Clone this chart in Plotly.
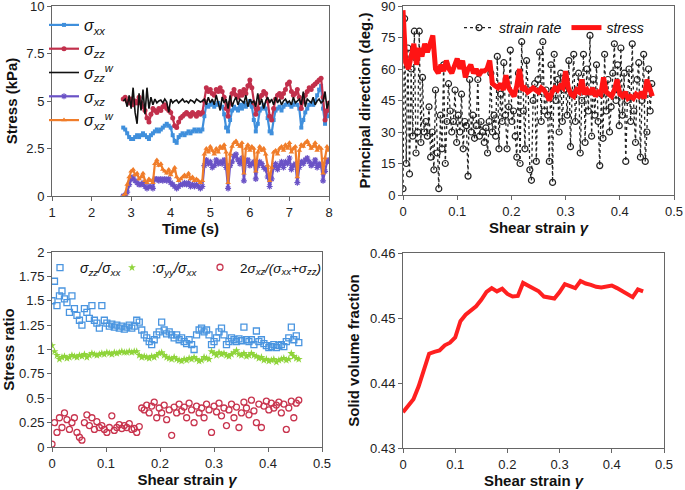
import numpy as np
import plotly.graph_objects as go

FONT = "Liberation Sans, Arial, sans-serif"

# ---------------- Panel (a): stresses vs time ----------------
time_s = np.round(2.8 + 0.05 * np.arange(105), 2)

sigma_xx = [3.6, 3.5, 3.3, 3.1, 3.0, 3.0, 3.1, 3.2, 3.1, 3.2,
            3.3, 3.2, 3.1, 3.0, 3.2, 3.3, 3.4, 3.5, 3.4, 3.5,
            3.6, 3.7, 3.8, 3.7, 3.6, 3.2, 2.9, 2.8, 3.1, 3.2,
            3.3, 3.2, 3.3, 3.4, 3.3, 3.4, 3.5, 3.4, 3.5, 3.4,
            3.5, 4.2, 4.8, 4.7, 4.8, 4.9, 4.7, 4.8, 4.9, 4.8,
            4.7, 4.3, 3.6, 3.4, 4.0, 4.5, 4.7, 4.6, 4.5, 4.8,
            4.6, 4.9, 4.7, 4.8, 5.0, 4.7, 4.0, 3.4, 3.8, 4.5,
            4.6, 4.8, 4.6, 4.1, 3.4, 3.3, 4.0, 4.5, 4.6, 4.7,
            4.5, 4.7, 4.8, 4.9, 4.8, 4.7, 4.8, 4.9, 4.8, 4.6,
            3.6, 4.0, 4.4, 4.6, 4.8, 4.9, 4.8, 5.0, 5.3, 5.6,
            5.8, 4.6, 3.8, 4.2, 4.7]
sigma_zz = [5.1, 5.2, 5.0, 4.9, 5.1, 4.8, 5.0, 4.9, 5.2, 4.9,
            4.7, 4.5, 4.1, 3.9, 4.3, 4.6, 4.5, 4.4, 4.6, 4.5,
            4.7, 4.8, 4.6, 4.5, 4.4, 4.1, 3.7, 3.6, 3.9, 4.1,
            4.2, 4.3, 4.4, 4.3, 4.2, 4.4, 4.3, 4.2, 4.4, 4.3,
            4.4, 5.0, 5.7, 5.5, 5.6, 5.4, 5.3, 5.6, 5.5, 5.7,
            5.5, 5.2, 4.6, 4.2, 4.9, 5.4, 5.6, 5.3, 5.2, 5.5,
            5.3, 5.6, 5.4, 5.8, 6.1, 5.7, 4.9, 4.3, 4.6, 5.2,
            5.3, 5.5, 5.4, 5.0, 4.2, 4.0, 4.6, 5.1, 5.3, 5.4,
            5.2, 5.4, 5.6, 5.9, 6.0, 5.5, 5.3, 5.4, 5.6, 5.2,
            4.6, 5.0, 5.3, 5.5, 5.7, 5.6, 5.8, 5.9, 6.0, 6.1,
            6.2, 5.2, 4.0, 4.5, 4.9]
sigma_zz_w = [5.0, 5.1, 4.7, 5.3, 4.6, 5.7, 4.4, 3.8, 5.4, 4.5,
              5.6, 4.3, 5.7, 4.6, 5.2, 4.8, 5.1, 4.9, 5.0, 5.05,
              4.9, 5.1, 4.95, 4.4, 5.1, 4.9, 5.0, 5.05, 4.9, 5.0,
              5.1, 4.95, 5.0, 4.9, 5.05, 5.0, 4.9, 5.1, 5.0, 4.95,
              5.0, 5.1, 4.8, 5.2, 4.9, 5.1, 4.8, 5.3, 4.9, 4.5,
              5.2, 4.9, 5.1, 4.6, 5.3, 4.7, 5.0, 5.2, 4.8, 5.1,
              5.0, 4.9, 5.3, 4.7, 5.1, 4.9, 5.0, 4.7, 5.4, 4.8,
              5.1, 4.6, 5.0, 5.2, 4.9, 5.1, 4.8, 5.2, 4.9, 5.1,
              4.8, 5.0, 5.1, 4.9, 5.0, 4.8, 5.2, 4.9, 5.0, 5.1,
              4.8, 5.5, 4.7, 5.1, 5.0, 4.9, 5.2, 4.8, 5.0, 5.1,
              4.9, 5.0, 5.5, 4.6, 5.0]
sigma_xz = [0.0, 0.05, 0.2, 0.6, 0.9, 1.0, 0.8, 0.7, 0.6, 0.6,
            0.7, 0.5, 0.4, 0.5, 0.5, 0.4, 0.9, 0.9, 0.8, 0.9,
            0.8, 0.9, 0.8, 0.9, 0.7, 0.6, 0.5, 0.4, 0.5, 0.6,
            0.6, 0.7, 0.6, 0.7, 0.5, 0.6, 0.5, 0.6, 0.5, 0.4,
            0.5, 1.6, 1.9, 1.7, 1.8, 1.5, 1.6, 1.9, 1.7, 1.8,
            1.7, 1.9, 1.5, 0.4, 1.6, 1.8, 2.1, 2.2, 1.9, 1.7,
            2.0, 0.8, 1.8, 1.9, 1.6, 1.7, 1.8, 0.9, 1.6, 1.8,
            1.7, 1.5, 1.4, 1.0, 0.5, 0.9, 1.5, 1.7, 1.4, 1.6,
            1.8, 1.5, 1.8, 1.7, 2.0, 1.4, 1.6, 1.7, 0.7, 1.5,
            1.8, 1.7, 1.9, 2.0, 1.8, 1.6, 1.7, 1.9, 1.5, 1.7,
            1.6, 0.8, 1.3, 1.8, 1.9]
sigma_xz_w = [0.0, 0.1, 0.6, 1.0, 1.3, 1.4, 1.1, 1.2, 0.9, 1.0,
              1.2, 0.8, 0.7, 0.9, 0.8, 0.7, 1.7, 1.9, 1.6, 1.7,
              1.4, 1.3, 1.2, 1.4, 1.1, 1.3, 1.5, 1.0, 0.8, 0.9,
              1.0, 1.1, 1.0, 1.2, 0.9, 1.0, 0.8, 0.9, 0.8, 0.7,
              0.8, 2.2, 2.5, 2.3, 2.6, 2.4, 2.2, 2.5, 2.3, 2.6,
              2.5, 2.7, 2.3, 0.7, 2.2, 2.6, 2.8, 2.9, 2.7, 2.6,
              2.8, 1.2, 2.5, 2.7, 2.4, 2.6, 2.5, 1.3, 2.3, 2.6,
              2.4, 2.5, 2.2, 1.6, 0.8, 1.5, 2.3, 2.4, 2.2, 2.5,
              2.6, 2.4, 2.7, 2.5, 2.8, 2.3, 2.5, 2.6, 1.0, 2.4,
              2.7, 2.6, 2.8, 2.9, 2.7, 2.5, 2.6, 2.8, 2.4, 2.6,
              2.5, 1.2, 2.0, 2.6, 2.4]

# ---------------- Panel (b): principal directions ----------------
gamma_rate = np.round(0.003 * np.arange(154), 4)
dir_strain_rate = [3, 84, 15, 70, 10, 60, 28, 78, 20, 30,
                   78, 25, 56, 30, 35, 28, 42, 18, 30, 12,
                   50, 20, 3, 38, 22, 62, 15, 35, 53, 40,
                   30, 35, 50, 25, 38, 30, 48, 22, 35, 33,
                   9, 55, 30, 38, 27, 33, 55, 28, 35, 30,
                   25, 32, 20, 35, 58, 30, 38, 28, 66, 22,
                   48, 35, 63, 38, 22, 42, 69, 35, 40, 28,
                   18, 58, 15, 73, 40, 22, 64, 50, 12, 7,
                   45, 53, 16, 55, 68, 35, 73, 40, 50, 38,
                   16, 62, 6, 67, 45, 55, 30, 58, 35, 50,
                   52, 38, 64, 23, 48, 67, 35, 50, 58, 20,
                   45, 67, 25, 60, 40, 76, 28, 55, 38, 62,
                   35, 14, 48, 27, 67, 40, 55, 30, 42, 58,
                   72, 45, 62, 33, 70, 38, 58, 16, 45, 60,
                   35, 72, 40, 25, 55, 63, 18, 45, 67, 16,
                   30, 60, 40, 53]
gamma_stress = np.round(0.005 * np.arange(93), 4)
dir_stress = [88, 63, 60, 66, 72, 62, 70, 66, 72, 68,
              73, 76, 60, 58, 62, 59, 64, 60, 58, 61,
              65, 60, 64, 56, 60, 62, 58, 60, 57, 59,
              59, 60, 64, 53, 52, 51, 53, 50, 57, 51,
              49, 47, 52, 60, 50, 51, 49, 50, 51, 50,
              49, 51, 50, 48, 45, 49, 51, 50, 52, 51,
              59, 51, 48, 47, 50, 49, 55, 48, 50, 48,
              51, 47, 49, 48, 56, 49, 48, 47, 50, 55,
              48, 47, 49, 46, 47, 46, 48, 47, 49, 46,
              55, 51, 47]

# ---------------- Panel (c): stress ratios ----------------
gamma_ratio = np.round(np.linspace(0, 0.457, 100), 4)
ratio_zz_xx = [1.5, 1.7, 1.45, 1.55, 1.6, 1.52, 1.48, 1.38, 1.55, 1.42,
               1.35, 1.3, 1.25, 1.42, 1.38, 1.32, 1.45, 1.3, 1.27, 1.22,
               1.45, 1.3, 1.27, 1.24, 1.26, 1.23, 1.25, 1.22, 1.24, 1.21,
               1.23, 1.25, 1.22, 1.24, 1.3, 1.28, 1.2, 1.15, 1.12, 1.08,
               1.05, 1.1, 1.15, 1.18, 1.28, 1.2, 1.16, 1.18, 1.15, 1.12,
               1.15, 1.1, 1.12, 1.08, 1.06, 1.1, 1.05, 1.0, 1.15, 1.2,
               1.22, 1.18, 1.2, 1.15, 1.05, 1.08, 1.12, 1.18, 1.22, 1.15,
               1.05, 1.08, 1.12, 1.1, 1.08, 1.11, 1.09, 1.23, 1.1, 1.08,
               1.1, 1.05, 1.19, 1.08, 1.1, 1.06, 1.04, 1.02, 1.03, 1.05,
               1.02, 1.04, 1.05, 1.03, 1.08, 1.12, 1.23, 1.1, 1.14, 1.07]
ratio_yy_xx = [1.04, 0.98, 0.94, 0.9, 0.92, 0.93, 0.91, 0.92, 0.94, 0.93,
               0.92, 0.94, 0.93, 0.95, 0.92, 0.94, 0.96, 0.95, 0.94, 0.95,
               0.96, 0.95, 0.97, 0.96, 0.95, 0.97, 0.96, 0.97, 0.98, 0.97,
               0.97, 0.98, 0.97, 0.98, 0.98, 0.94, 0.92, 0.93, 0.92, 0.91,
               0.93, 0.92, 0.94, 0.96, 0.97, 0.94, 0.92, 0.91, 0.9, 0.92,
               0.9, 0.89, 0.88, 0.9, 0.89, 0.91, 0.9, 0.92, 0.9, 0.88,
               0.89, 0.92, 0.91, 0.9, 0.98, 0.96, 0.94, 0.97, 0.95, 0.96,
               0.94, 0.93, 0.95, 0.97, 0.99, 0.95, 0.94, 0.96, 0.93, 0.94,
               0.96, 0.94, 0.93, 0.91, 0.92, 0.89, 0.9, 0.88, 0.89, 0.9,
               0.87, 0.89, 0.9, 0.91, 0.89, 0.9, 0.96, 0.93, 0.91, 0.9]
ratio_shear = [0.03, 0.25, 0.15, 0.3, 0.2, 0.35, 0.28, 0.18, 0.25, 0.3,
               0.15, 0.1, 0.07, 0.25, 0.33, 0.22, 0.3, 0.18, 0.26, 0.2,
               0.22, 0.18, 0.15, 0.2, 0.32, 0.17, 0.2, 0.23, 0.19, 0.22,
               0.2, 0.24, 0.18, 0.19, 0.15, 0.21, 0.4, 0.38, 0.43, 0.35,
               0.42, 0.46, 0.3, 0.4, 0.35, 0.43, 0.28, 0.38, 0.12, 0.41,
               0.35, 0.44, 0.37, 0.41, 0.3, 0.45, 0.38, 0.25, 0.42, 0.35,
               0.4, 0.3, 0.44, 0.38, 0.15, 0.42, 0.36, 0.45, 0.32, 0.4,
               0.22, 0.38, 0.44, 0.3, 0.41, 0.2, 0.35, 0.46, 0.4, 0.33,
               0.48, 0.37, 0.25, 0.44, 0.2, 0.42, 0.47, 0.38, 0.45, 0.4,
               0.43, 0.46, 0.35, 0.44, 0.18, 0.4, 0.47, 0.3, 0.45, 0.48]

# ---------------- Panel (d): solid volume fraction ----------------
gamma_phi = np.round(0.01 * np.arange(47), 3)
solid_fraction = [0.4355, 0.4365, 0.4375, 0.4395, 0.4420, 0.4445, 0.4448, 0.4450, 0.4458, 0.4462,
                  0.4470, 0.4495, 0.4505, 0.4512, 0.4518, 0.4528, 0.4540, 0.4546, 0.4541, 0.4545,
                  0.4537, 0.4533, 0.4534, 0.4554, 0.4550, 0.4546, 0.4541, 0.4533, 0.4532, 0.4530,
                  0.4540, 0.4552, 0.4549, 0.4546, 0.4557, 0.4553, 0.4551, 0.4548, 0.4547, 0.4548,
                  0.4550, 0.4546, 0.4541, 0.4536, 0.4532, 0.4544, 0.4541]

# ---------------- Figure ----------------
fig = go.Figure()

C_XX = "#3f8fdc"
C_ZZ = "#c2304c"
C_XZ = "#6a52c6"
C_XZW = "#f07d2a"

def S(name):
    return f"<i>{name}</i>"

# Panel a
fig.add_trace(go.Scatter(x=time_s, y=sigma_xx, name=S("σ<sub>xx</sub>"), mode="lines+markers",
                         line=dict(color=C_XX, width=2.2), marker=dict(symbol="square", size=4, color=C_XX),
                         xaxis="x", yaxis="y", legend="legend"))
fig.add_trace(go.Scatter(x=time_s, y=sigma_zz, name=S("σ<sub>zz</sub>"), mode="lines+markers",
                         line=dict(color=C_ZZ, width=2.2), marker=dict(symbol="circle", size=5, color=C_ZZ),
                         xaxis="x", yaxis="y", legend="legend"))
fig.add_trace(go.Scatter(x=time_s, y=sigma_zz_w, name=S("σ<sub>zz</sub><sup>w</sup>"), mode="lines",
                         line=dict(color="#111111", width=1.6),
                         xaxis="x", yaxis="y", legend="legend"))
fig.add_trace(go.Scatter(x=time_s, y=sigma_xz, name=S("σ<sub>xz</sub>"), mode="lines+markers",
                         line=dict(color=C_XZ, width=2.2), marker=dict(symbol="asterisk-open", size=5, color=C_XZ, line=dict(width=1.2, color=C_XZ)),
                         xaxis="x", yaxis="y", legend="legend"))
fig.add_trace(go.Scatter(x=time_s, y=sigma_xz_w, name=S("σ<sub>xz</sub><sup>w</sup>"), mode="lines+markers",
                         line=dict(color=C_XZW, width=2.2), marker=dict(symbol="triangle-up", size=5, color=C_XZW),
                         xaxis="x", yaxis="y", legend="legend"))

# Panel b
fig.add_trace(go.Scatter(x=gamma_rate, y=dir_strain_rate, name="<i>strain rate</i>", mode="lines+markers",
                         line=dict(color="#222222", width=1.3, dash="dot"),
                         marker=dict(symbol="circle-open", size=6, color="#222222", line=dict(width=1.2)),
                         xaxis="x2", yaxis="y2", legend="legend2"))
fig.add_trace(go.Scatter(x=gamma_stress, y=dir_stress, name="<i>stress</i>", mode="lines",
                         line=dict(color="#ff1414", width=5),
                         xaxis="x2", yaxis="y2", legend="legend2"))

# Panel c
fig.add_trace(go.Scatter(x=gamma_ratio, y=ratio_zz_xx, name=S("σ<sub>zz</sub>/σ<sub>xx</sub>"), mode="markers",
                         marker=dict(symbol="square-open", size=6, color="#4a95e0", line=dict(width=1.3)),
                         xaxis="x3", yaxis="y3", legend="legend3"))
fig.add_trace(go.Scatter(x=gamma_ratio, y=ratio_yy_xx, name=":" + S("σ<sub>yy</sub>/σ<sub>xx</sub>"), mode="markers",
                         marker=dict(symbol="star", size=6, color="#8fd43a"),
                         xaxis="x3", yaxis="y3", legend="legend4"))
fig.add_trace(go.Scatter(x=gamma_ratio, y=ratio_shear, name="2" + S("σ<sub>xz</sub>/(σ<sub>xx</sub>+σ<sub>zz</sub>)"), mode="markers",
                         marker=dict(symbol="circle-open", size=6, color="#c8344e", line=dict(width=1.3)),
                         xaxis="x3", yaxis="y3", legend="legend5"))

# Panel d
fig.add_trace(go.Scatter(x=gamma_phi, y=solid_fraction, name="φ", mode="lines",
                         line=dict(color="#ff2020", width=4), showlegend=False,
                         xaxis="x4", yaxis="y4"))

W, H = 685, 490
def dx(a, b):
    return [a / W, b / W]
def dy(top, bottom):
    return [1 - bottom / H, 1 - top / H]

axis_common = dict(showgrid=False, zeroline=False, showline=True, linecolor="#666666", linewidth=1,
                   mirror=True, ticks="outside", ticklen=4, tickcolor="#666666", automargin=False,
                   ticklabeloverflow="allow",
                   tickfont=dict(family=FONT, size=13, color="#222222"))
title_font = dict(family=FONT, size=15, color="#111111")
gamma_title = "<b>Shear strain </b><b><i>γ</i></b>"

fig.update_layout(
    width=W, height=H, margin=dict(l=0, r=0, t=0, b=0),
    paper_bgcolor="white", plot_bgcolor="white",
    font=dict(family=FONT, color="#111111"),
    xaxis=dict(domain=dx(52, 329), range=[1, 8], dtick=1, anchor="y",
               title=dict(text="<b>Time (s)</b>", font=title_font, standoff=2), **axis_common),
    yaxis=dict(domain=dy(6, 196), range=[0, 10], dtick=2.5, anchor="x",
               title=dict(text="<b>Stress (kPa)</b>", font=title_font, standoff=5), **axis_common),
    xaxis2=dict(domain=dx(403, 674), range=[0, 0.5], dtick=0.1, anchor="y2",
                title=dict(text=gamma_title, font=title_font, standoff=1), **axis_common),
    yaxis2=dict(domain=dy(6, 195), range=[0, 90], dtick=15, anchor="x2",
                title=dict(text="<b>Principal direction (deg.)</b>", font=title_font, standoff=6), **axis_common),
    xaxis3=dict(domain=dx(52, 322), range=[0, 0.5], dtick=0.1, anchor="y3",
                title=dict(text=gamma_title, font=title_font, standoff=1), **axis_common),
    yaxis3=dict(domain=dy(252, 447), range=[0, 2.0001], tickvals=[0, 0.25, 0.5, 0.75, 1, 1.25, 1.5, 1.75, 2],
                ticktext=["0", "0.25", "0.5", "0.75", "1", "1.25", "1.5", "1.75", "2"], anchor="x3",
                title=dict(text="<b>Stress ratio</b>", font=title_font, standoff=9), **axis_common),
    xaxis4=dict(domain=dx(403, 664), range=[0, 0.5], dtick=0.1, anchor="y4",
                title=dict(text=gamma_title, font=title_font, standoff=1), **axis_common),
    yaxis4=dict(domain=dy(253, 448), range=[0.43, 0.46], dtick=0.01, anchor="x4",
                title=dict(text="<b>Solid volume fraction</b>", font=title_font, standoff=6), **axis_common),
    legend=dict(x=44 / W, y=1 - 8 / H, xanchor="left", yanchor="top", bgcolor="rgba(0,0,0,0)",
                font=dict(family=FONT, size=16, color="#111111"), itemwidth=30, tracegroupgap=0),
    legend2=dict(x=459 / W, y=1 - 12 / H, xanchor="left", yanchor="top", orientation="h",
                 bgcolor="rgba(0,0,0,0)", font=dict(family=FONT, size=14, color="#111111")),
    legend3=dict(x=40 / W, y=1 - 252 / H, xanchor="left", yanchor="top", orientation="h",
                 bgcolor="rgba(0,0,0,0)", font=dict(family=FONT, size=14, color="#111111")),
    legend4=dict(x=112 / W, y=1 - 252 / H, xanchor="left", yanchor="top", orientation="h",
                 bgcolor="rgba(0,0,0,0)", font=dict(family=FONT, size=14, color="#111111")),
    legend5=dict(x=200 / W, y=1 - 252 / H, xanchor="left", yanchor="top", orientation="h",
                 bgcolor="rgba(0,0,0,0)", font=dict(family=FONT, size=13.5, color="#111111")),
)

fig.write_html("out.html", config={"displayModeBar": False},
               post_script="document.body.style.margin='0px';document.body.style.overflow='hidden';")
